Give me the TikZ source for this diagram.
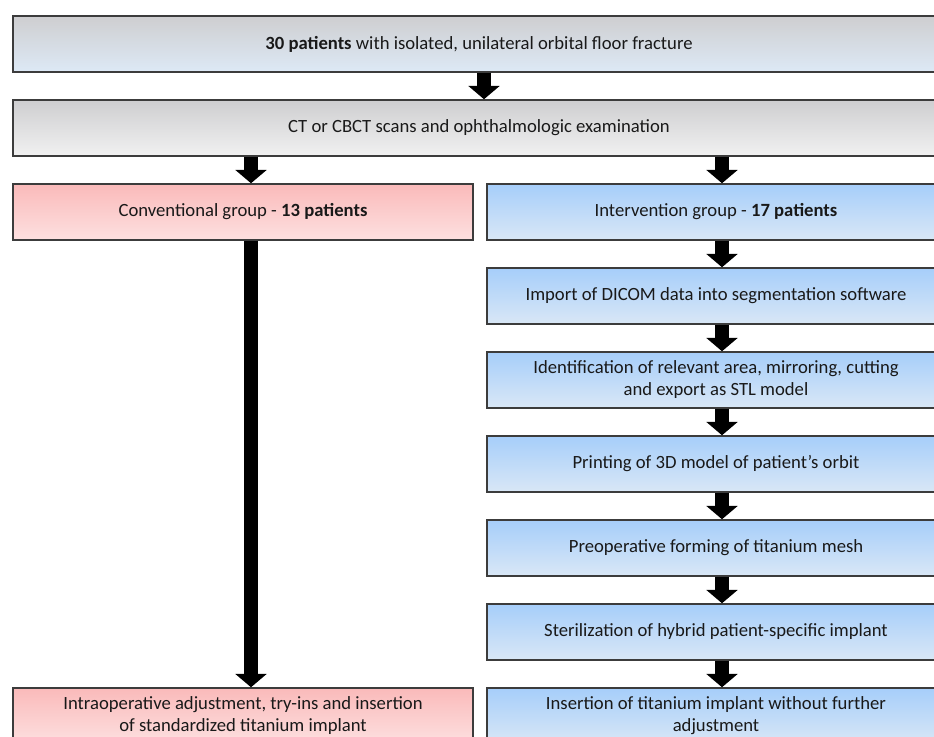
\documentclass[tikz,border=0pt]{standalone}
\usepackage{fontspec}
\setmainfont{Carlito}
\usetikzlibrary{arrows.meta}
\definecolor{boxline}{RGB}{60,60,60}
\definecolor{grayT}{RGB}{206,206,208}
\definecolor{grayB}{RGB}{241,241,241}
\definecolor{skyB}{RGB}{221,233,246}
\definecolor{redT}{RGB}{250,186,186}
\definecolor{redB}{RGB}{253,224,224}
\definecolor{blueT}{RGB}{166,206,250}
\definecolor{blueB}{RGB}{217,231,246}
\tikzset{
	box/.style = {draw=boxline, line width=1.1pt, minimum height=42pt, align=center,
			inner sep=0pt, font=\fontsize{14}{16.5}\selectfont, text=black!90},
	graybox/.style = {box, top color=grayT, bottom color=grayB},
	startbox/.style = {box, top color=grayT, bottom color=skyB},
	redbox/.style = {box, top color=redT, bottom color=redB, minimum width=345pt},
	bluebox/.style = {box, top color=blueT, bottom color=blueB, minimum width=343.5pt},
	fatarrow/.style = {line width=10pt, -{Triangle[width=23pt, length=10pt]}}
}
\begin{document}
\begin{tikzpicture}[x=0.75pt, y=-0.75pt]
					\useasboundingbox (0,0) rectangle (934,736);
					\fill[white] (0,0) rectangle (934,736);
					\clip (0,0) rectangle (934,736);
					% ====== Common steps ========
					\node[startbox, minimum width=699pt] (start) at (479,44) {\textbf{30 patients} with isolated, unilateral orbital floor fracture};
					\node[graybox, minimum width=699pt] (scan) at (479,128) {CT or CBCT scans and ophthalmologic examination};
					% ====== Conventional group ========
					\node[redbox] (conv) at (243,212) {Conventional group - \textbf{13 patients}};
					\node[redbox] (stdimp) at (243,716) {Intraoperative adjustment, try-ins and insertion\\of standardized titanium implant};
					% ====== Intervention group ========
					\node[bluebox] (interv) at (716,212) {Intervention group - \textbf{17 patients}};
					\node[bluebox] (dicom) at (716,296) {Import of DICOM data into segmentation software};
					\node[bluebox] (stl) at (716,380) {Identification of relevant area, mirroring, cutting\\and export as STL model};
					\node[bluebox] (print) at (716,464) {Printing of 3D model of patient’s orbit};
					\node[bluebox] (mesh) at (716,548) {Preoperative forming of titanium mesh};
					\node[bluebox] (steril) at (716,632) {Sterilization of hybrid patient-specific implant};
					\node[bluebox] (insert) at (716,716) {Insertion of titanium implant without further\\adjustment};
					% ====== Arrows ========
					\draw[fatarrow] ([xshift=3.75pt]start.south) -- ([xshift=3.75pt]scan.north);
					\draw[fatarrow] ([xshift=6pt]scan.south -| conv.north) -- ([xshift=6pt]conv.north);
					\draw[fatarrow] ([xshift=4.5pt]scan.south -| interv.north) -- ([xshift=4.5pt]interv.north);
					\draw[fatarrow] ([xshift=6pt]conv.south) -- ([xshift=6pt]stdimp.north);
					\draw[fatarrow] ([xshift=4.5pt]interv.south) -- ([xshift=4.5pt]dicom.north);
					\draw[fatarrow] ([xshift=4.5pt]dicom.south) -- ([xshift=4.5pt]stl.north);
					\draw[fatarrow] ([xshift=4.5pt]stl.south) -- ([xshift=4.5pt]print.north);
					\draw[fatarrow] ([xshift=4.5pt]print.south) -- ([xshift=4.5pt]mesh.north);
					\draw[fatarrow] ([xshift=4.5pt]mesh.south) -- ([xshift=4.5pt]steril.north);
					\draw[fatarrow] ([xshift=4.5pt]steril.south) -- ([xshift=4.5pt]insert.north);
				\end{tikzpicture}
\end{document}
